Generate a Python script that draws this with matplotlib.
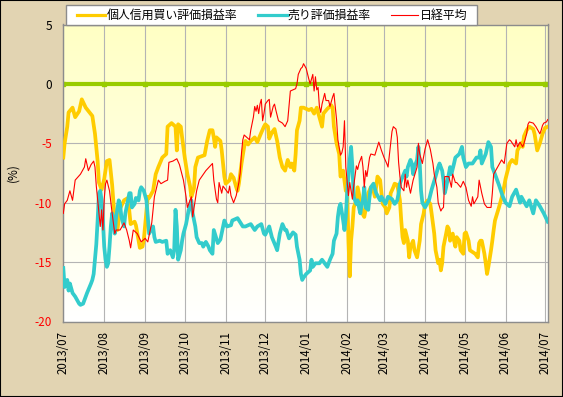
import matplotlib
matplotlib.use('Agg')
import matplotlib.pyplot as plt
import matplotlib.dates as mdates
from matplotlib.lines import Line2D
from matplotlib.patches import Rectangle
import numpy as np
import pandas as pd

plt.rcParams['font.family'] = ['Noto Sans CJK JP', 'DejaVu Sans']
plt.rcParams['axes.unicode_minus'] = False

# 個人信用買い評価損益率
buy_dates = [
    "2013-07-01", "2013-07-02", "2013-07-04", "2013-07-05", "2013-07-08", "2013-07-10", "2013-07-13", "2013-07-15",
    "2013-07-18", "2013-07-23", "2013-07-25", "2013-07-27", "2013-07-28", "2013-07-30", "2013-08-01", "2013-08-03",
    "2013-08-05", "2013-08-07", "2013-08-09", "2013-08-11", "2013-08-13", "2013-08-16", "2013-08-19", "2013-08-21",
    "2013-08-24", "2013-08-25", "2013-08-28", "2013-08-30", "2013-08-31", "2013-09-03", "2013-09-04", "2013-09-07",
    "2013-09-09", "2013-09-11", "2013-09-14", "2013-09-17", "2013-09-18", "2013-09-21", "2013-09-24", "2013-09-25",
    "2013-09-26", "2013-09-28", "2013-09-29", "2013-10-01", "2013-10-03", "2013-10-05", "2013-10-06", "2013-10-08",
    "2013-10-09", "2013-10-11", "2013-10-16", "2013-10-18", "2013-10-20", "2013-10-22", "2013-10-23", "2013-10-24",
    "2013-10-25", "2013-10-28", "2013-10-29", "2013-10-31", "2013-11-01", "2013-11-04", "2013-11-05", "2013-11-07",
    "2013-11-09", "2013-11-10", "2013-11-11", "2013-11-13", "2013-11-15", "2013-11-16", "2013-11-18", "2013-11-20",
    "2013-11-23", "2013-11-25", "2013-11-28", "2013-11-30", "2013-12-01", "2013-12-03", "2013-12-04", "2013-12-06",
    "2013-12-08", "2013-12-10", "2013-12-12", "2013-12-14", "2013-12-16", "2013-12-18", "2013-12-20", "2013-12-21",
    "2013-12-23", "2013-12-24", "2013-12-25", "2013-12-27", "2013-12-28", "2013-12-30", "2014-01-01", "2014-01-03",
    "2014-01-05", "2014-01-07", "2014-01-09", "2014-01-11", "2014-01-13", "2014-01-14", "2014-01-17", "2014-01-20",
    "2014-01-21", "2014-01-22", "2014-01-24", "2014-01-26", "2014-01-27", "2014-01-29", "2014-01-31", "2014-02-01",
    "2014-02-02", "2014-02-03", "2014-02-04", "2014-02-05", "2014-02-06", "2014-02-08", "2014-02-09", "2014-02-11",
    "2014-02-13", "2014-02-14", "2014-02-15", "2014-02-17", "2014-02-19", "2014-02-21", "2014-02-22", "2014-02-24",
    "2014-02-26", "2014-02-27", "2014-02-28", "2014-03-02", "2014-03-03", "2014-03-05", "2014-03-06", "2014-03-08",
    "2014-03-09", "2014-03-11", "2014-03-13", "2014-03-14", "2014-03-15", "2014-03-16", "2014-03-17", "2014-03-19",
    "2014-03-20", "2014-03-21", "2014-03-23", "2014-03-24", "2014-03-26", "2014-03-28", "2014-03-29", "2014-03-31",
    "2014-04-01", "2014-04-03", "2014-04-05", "2014-04-06", "2014-04-08", "2014-04-09", "2014-04-11", "2014-04-12",
    "2014-04-13", "2014-04-14", "2014-04-15", "2014-04-17", "2014-04-18", "2014-04-19", "2014-04-20", "2014-04-22",
    "2014-04-23", "2014-04-24", "2014-04-25", "2014-04-27", "2014-04-28", "2014-04-30", "2014-05-01", "2014-05-02",
    "2014-05-04", "2014-05-05", "2014-05-09", "2014-05-11", "2014-05-12", "2014-05-13", "2014-05-14", "2014-05-16",
    "2014-05-17", "2014-05-18", "2014-05-19", "2014-05-21", "2014-05-22", "2014-05-23", "2014-05-24", "2014-05-27",
    "2014-05-30", "2014-06-01", "2014-06-04", "2014-06-06", "2014-06-09", "2014-06-10", "2014-06-13", "2014-06-14",
    "2014-06-15", "2014-06-17", "2014-06-19", "2014-06-22", "2014-06-23", "2014-06-25", "2014-06-27", "2014-06-29",
    "2014-07-01", "2014-07-03",
]
buy_values = [
    -6.2, -5.0, -3.6, -2.4, -2.0, -2.8, -2.3, -1.3,
    -2.0, -2.7, -4.2, -6.5, -8.3, -8.9, -8.0, -6.5,
    -6.4, -8.5, -11.5, -12.3, -10.5, -9.8, -9.6, -11.8,
    -11.6, -11.9, -13.8, -13.7, -13.1, -9.5, -9.6, -9.0,
    -7.6, -7.0, -6.2, -5.9, -3.6, -3.3, -3.6, -5.6,
    -3.4, -3.6, -4.5, -6.2, -7.6, -8.6, -9.5, -8.8,
    -7.0, -6.2, -6.0, -4.8, -3.9, -3.9, -4.5, -5.3,
    -4.5, -4.8, -5.6, -7.8, -8.4, -8.1, -7.6, -7.9,
    -8.7, -9.0, -8.4, -6.7, -5.3, -4.8, -5.1, -4.8,
    -4.5, -4.9, -4.1, -3.6, -3.4, -3.6, -4.6, -4.1,
    -3.8, -4.8, -6.2, -7.0, -7.3, -6.4, -7.0, -6.7,
    -7.3, -5.9, -3.9, -3.1, -2.0, -2.0, -2.1, -2.2,
    -2.1, -2.5, -2.0, -2.8, -3.6, -2.5, -2.1, -1.8,
    -2.0, -3.6, -5.0, -5.9, -7.8, -7.3, -9.0, -8.7,
    -13.2, -16.2, -13.2, -12.0, -10.4, -9.8, -8.7, -9.8,
    -11.0, -11.2, -10.6, -9.2, -8.7, -9.0, -9.5, -7.8,
    -8.1, -9.2, -10.1, -10.4, -10.9, -10.4, -9.2, -8.7,
    -8.4, -8.5, -9.8, -11.5, -12.9, -13.4, -12.3, -13.2,
    -14.6, -13.7, -13.2, -14.0, -14.6, -13.2, -11.8, -10.9,
    -10.1, -9.8, -10.1, -10.9, -12.6, -14.0, -15.1, -14.8,
    -15.7, -15.1, -13.7, -12.6, -12.0, -12.2, -13.2, -12.6,
    -13.2, -13.7, -12.9, -13.2, -14.0, -14.3, -12.6, -12.5,
    -13.2, -14.0, -14.3, -14.6, -13.4, -13.2, -13.2, -14.3,
    -15.1, -16.0, -15.4, -14.0, -13.2, -12.3, -11.5, -10.4,
    -9.2, -8.0, -6.7, -6.4, -6.7, -5.6, -5.0, -5.3,
    -4.4, -3.9, -3.6, -3.8, -4.2, -5.6, -5.0, -4.2,
    -3.7, -3.6,
]

# 売り評価損益率
sell_dates = [
    "2013-07-01", "2013-07-02", "2013-07-04", "2013-07-05", "2013-07-06", "2013-07-08", "2013-07-10", "2013-07-13",
    "2013-07-14", "2013-07-16", "2013-07-17", "2013-07-19", "2013-07-22", "2013-07-23", "2013-07-24", "2013-07-25",
    "2013-07-26", "2013-07-27", "2013-07-28", "2013-07-29", "2013-07-30", "2013-07-31", "2013-08-01", "2013-08-02",
    "2013-08-03", "2013-08-04", "2013-08-05", "2013-08-06", "2013-08-07", "2013-08-08", "2013-08-09", "2013-08-10",
    "2013-08-12", "2013-08-13", "2013-08-14", "2013-08-16", "2013-08-17", "2013-08-19", "2013-08-20", "2013-08-21",
    "2013-08-22", "2013-08-24", "2013-08-25", "2013-08-27", "2013-08-28", "2013-08-29", "2013-08-31", "2013-09-02",
    "2013-09-03", "2013-09-04", "2013-09-07", "2013-09-08", "2013-09-09", "2013-09-12", "2013-09-14", "2013-09-17",
    "2013-09-18", "2013-09-20", "2013-09-22", "2013-09-23", "2013-09-24", "2013-09-25", "2013-09-26", "2013-09-28",
    "2013-09-29", "2013-09-30", "2013-10-02", "2013-10-04", "2013-10-06", "2013-10-07", "2013-10-09", "2013-10-10",
    "2013-10-12", "2013-10-14", "2013-10-15", "2013-10-17", "2013-10-19", "2013-10-20", "2013-10-22", "2013-10-23",
    "2013-10-26", "2013-10-28", "2013-10-31", "2013-11-02", "2013-11-05", "2013-11-06", "2013-11-10", "2013-11-14",
    "2013-11-16", "2013-11-20", "2013-11-23", "2013-11-25", "2013-11-28", "2013-11-30", "2013-12-01", "2013-12-04",
    "2013-12-06", "2013-12-09", "2013-12-10", "2013-12-12", "2013-12-14", "2013-12-16", "2013-12-17", "2013-12-19",
    "2013-12-22", "2013-12-24", "2013-12-25", "2013-12-27", "2013-12-28", "2013-12-29", "2013-12-30", "2014-01-01",
    "2014-01-04", "2014-01-05", "2014-01-06", "2014-01-08", "2014-01-11", "2014-01-13", "2014-01-15", "2014-01-17",
    "2014-01-19", "2014-01-21", "2014-01-22", "2014-01-24", "2014-01-25", "2014-01-26", "2014-01-27", "2014-01-29",
    "2014-01-30", "2014-01-31", "2014-02-01", "2014-02-02", "2014-02-03", "2014-02-04", "2014-02-05", "2014-02-06",
    "2014-02-08", "2014-02-09", "2014-02-10", "2014-02-11", "2014-02-12", "2014-02-13", "2014-02-14", "2014-02-15",
    "2014-02-17", "2014-02-18", "2014-02-19", "2014-02-21", "2014-02-23", "2014-02-26", "2014-02-27", "2014-03-02",
    "2014-03-04", "2014-03-07", "2014-03-09", "2014-03-11", "2014-03-12", "2014-03-13", "2014-03-14", "2014-03-17",
    "2014-03-18", "2014-03-19", "2014-03-21", "2014-03-22", "2014-03-23", "2014-03-24", "2014-03-26", "2014-03-27",
    "2014-03-28", "2014-03-29", "2014-03-30", "2014-04-01", "2014-04-04", "2014-04-06", "2014-04-09", "2014-04-11",
    "2014-04-12", "2014-04-14", "2014-04-15", "2014-04-16", "2014-04-17", "2014-04-19", "2014-04-20", "2014-04-21",
    "2014-04-23", "2014-04-24", "2014-04-27", "2014-04-29", "2014-04-30", "2014-05-02", "2014-05-04", "2014-05-07",
    "2014-05-10", "2014-05-12", "2014-05-13", "2014-05-14", "2014-05-17", "2014-05-19", "2014-05-21", "2014-05-22",
    "2014-05-24", "2014-05-27", "2014-05-30", "2014-06-01", "2014-06-04", "2014-06-06", "2014-06-09", "2014-06-12",
    "2014-06-13", "2014-06-17", "2014-06-19", "2014-06-22", "2014-06-24", "2014-06-27", "2014-06-30", "2014-07-03",
]
sell_values = [
    -15.5, -17.1, -16.5, -17.4, -16.8, -17.6, -17.9, -18.5,
    -18.6, -18.5, -18.2, -17.6, -16.8, -16.5, -16.0, -14.8,
    -13.5, -11.5, -9.2, -9.0, -9.8, -11.5, -13.7, -14.8,
    -15.4, -15.1, -13.7, -12.0, -10.9, -11.5, -12.6, -11.2,
    -9.8, -10.1, -11.2, -12.0, -10.9, -9.8, -9.2, -9.2,
    -10.4, -10.1, -9.6, -9.8, -9.0, -8.7, -9.0, -9.8,
    -11.2, -12.6, -12.0, -12.9, -13.3, -13.2, -13.3, -13.2,
    -14.3, -14.0, -14.6, -14.0, -10.6, -12.0, -14.8, -14.0,
    -13.2, -12.6, -11.8, -10.6, -9.8, -10.9, -12.0, -12.9,
    -13.4, -13.4, -13.7, -13.3, -13.7, -14.0, -14.3, -12.3,
    -13.4, -13.1, -11.5, -12.0, -11.9, -11.5, -11.3, -12.0,
    -12.0, -11.8, -12.3, -12.0, -11.8, -12.6, -12.7, -12.0,
    -12.9, -13.7, -14.0, -12.6, -11.8, -12.3, -12.3, -13.0,
    -12.5, -12.7, -13.7, -14.8, -16.0, -16.5, -16.3, -16.0,
    -15.7, -14.8, -15.4, -15.1, -15.1, -14.8, -15.1, -15.4,
    -14.8, -14.3, -13.2, -12.6, -11.2, -10.4, -10.1, -11.5,
    -12.3, -11.2, -9.2, -7.8, -6.4, -5.3, -7.0, -9.5,
    -10.1, -9.8, -10.4, -10.9, -10.1, -9.8, -8.7, -10.4,
    -10.6, -9.5, -8.7, -8.4, -9.2, -9.8, -9.5, -10.1,
    -9.5, -9.7, -10.1, -9.8, -9.2, -8.4, -8.1, -7.3,
    -7.8, -7.0, -6.4, -6.7, -7.6, -7.0, -6.4, -5.3,
    -6.7, -9.0, -10.0, -10.4, -9.8, -8.9, -7.8, -7.0,
    -6.7, -7.3, -8.1, -9.2, -8.7, -7.6, -7.0, -7.6,
    -6.7, -6.2, -5.9, -5.3, -6.2, -7.0, -6.7, -6.7,
    -6.2, -6.2, -5.6, -6.7, -5.9, -4.9, -5.3, -7.0,
    -7.6, -8.5, -9.5, -10.0, -10.3, -9.5, -8.9, -10.0,
    -9.5, -10.3, -9.8, -10.9, -9.8, -10.3, -10.9, -11.6,
]

# 日経平均
nikkei_dates = [
    "2013-07-01", "2013-07-02", "2013-07-04", "2013-07-06", "2013-07-08", "2013-07-10", "2013-07-14", "2013-07-17",
    "2013-07-18", "2013-07-20", "2013-07-22", "2013-07-24", "2013-07-25", "2013-07-26", "2013-07-28", "2013-07-29",
    "2013-07-30", "2013-07-31", "2013-08-01", "2013-08-02", "2013-08-03", "2013-08-05", "2013-08-07", "2013-08-09",
    "2013-08-10", "2013-08-13", "2013-08-16", "2013-08-18", "2013-08-20", "2013-08-21", "2013-08-23", "2013-08-26",
    "2013-08-29", "2013-09-01", "2013-09-03", "2013-09-06", "2013-09-08", "2013-09-11", "2013-09-13", "2013-09-16",
    "2013-09-18", "2013-09-19", "2013-09-22", "2013-09-25", "2013-09-27", "2013-09-30", "2013-10-02", "2013-10-03",
    "2013-10-06", "2013-10-07", "2013-10-10", "2013-10-12", "2013-10-17", "2013-10-22", "2013-10-23", "2013-10-25",
    "2013-10-26", "2013-10-27", "2013-10-29", "2013-10-30", "2013-11-01", "2013-11-03", "2013-11-04", "2013-11-05",
    "2013-11-07", "2013-11-09", "2013-11-11", "2013-11-12", "2013-11-13", "2013-11-14", "2013-11-15", "2013-11-18",
    "2013-11-19", "2013-11-20", "2013-11-22", "2013-11-23", "2013-11-24", "2013-11-25", "2013-11-26", "2013-11-27",
    "2013-11-28", "2013-11-29", "2013-11-30", "2013-12-01", "2013-12-03", "2013-12-04", "2013-12-05", "2013-12-07",
    "2013-12-08", "2013-12-09", "2013-12-11", "2013-12-14", "2013-12-16", "2013-12-18", "2013-12-19", "2013-12-20",
    "2013-12-24", "2013-12-25", "2013-12-26", "2013-12-28", "2013-12-29", "2013-12-30", "2014-01-01", "2014-01-03",
    "2014-01-04", "2014-01-05", "2014-01-06", "2014-01-07", "2014-01-08", "2014-01-09", "2014-01-10", "2014-01-11",
    "2014-01-12", "2014-01-13", "2014-01-15", "2014-01-16", "2014-01-18", "2014-01-19", "2014-01-21", "2014-01-22",
    "2014-01-24", "2014-01-25", "2014-01-27", "2014-01-28", "2014-01-29", "2014-01-30", "2014-01-31", "2014-02-02",
    "2014-02-03", "2014-02-05", "2014-02-06", "2014-02-08", "2014-02-09", "2014-02-10", "2014-02-12", "2014-02-13",
    "2014-02-14", "2014-02-15", "2014-02-16", "2014-02-18", "2014-02-19", "2014-02-22", "2014-02-25", "2014-02-27",
    "2014-03-01", "2014-03-03", "2014-03-04", "2014-03-06", "2014-03-07", "2014-03-08", "2014-03-10", "2014-03-11",
    "2014-03-12", "2014-03-13", "2014-03-14", "2014-03-16", "2014-03-17", "2014-03-18", "2014-03-19", "2014-03-21",
    "2014-03-23", "2014-03-26", "2014-03-27", "2014-03-28", "2014-03-30", "2014-04-01", "2014-04-03", "2014-04-05",
    "2014-04-07", "2014-04-08", "2014-04-10", "2014-04-11", "2014-04-13", "2014-04-14", "2014-04-15", "2014-04-16",
    "2014-04-19", "2014-04-21", "2014-04-22", "2014-04-24", "2014-04-25", "2014-04-28", "2014-04-30", "2014-05-02",
    "2014-05-04", "2014-05-06", "2014-05-07", "2014-05-08", "2014-05-11", "2014-05-12", "2014-05-14", "2014-05-16",
    "2014-05-18", "2014-05-21", "2014-05-22", "2014-05-23", "2014-05-26", "2014-05-29", "2014-05-31", "2014-06-02",
    "2014-06-04", "2014-06-05", "2014-06-08", "2014-06-09", "2014-06-10", "2014-06-12", "2014-06-14", "2014-06-15",
    "2014-06-17", "2014-06-18", "2014-06-19", "2014-06-22", "2014-06-24", "2014-06-27", "2014-06-28", "2014-06-29",
    "2014-06-30", "2014-07-02", "2014-07-03",
]
nikkei_values = [
    -10.9, -10.1, -9.8, -9.0, -9.8, -8.1, -7.6, -7.0,
    -6.3, -7.3, -6.8, -6.5, -7.0, -8.6, -10.9, -12.0,
    -10.6, -12.3, -9.7, -8.4, -8.1, -9.0, -10.9, -12.6,
    -12.3, -12.3, -11.7, -12.3, -13.2, -13.8, -12.3, -12.6,
    -13.3, -13.0, -13.3, -11.7, -9.5, -8.1, -8.4, -8.2,
    -8.1, -6.6, -6.5, -6.3, -6.8, -8.1, -9.5, -10.4,
    -9.5, -11.2, -9.0, -8.1, -7.3, -6.7, -8.1, -9.7,
    -10.0, -8.3, -9.2, -8.6, -8.9, -9.2, -8.6, -9.4,
    -10.0, -9.4, -8.3, -7.5, -5.8, -4.7, -4.3, -4.6,
    -4.7, -3.9, -2.8, -1.9, -2.3, -1.8, -2.5, -1.7,
    -1.3, -3.1, -2.5, -1.7, -1.4, -1.3, -2.8, -1.9,
    -1.7, -2.2, -3.1, -3.3, -3.6, -3.1, -1.9, -0.6,
    -0.4, 0.0, 0.8, 1.3, 1.4, 1.7, 1.3, 0.4,
    0.0, 0.4, 0.8, -0.6, 0.6, -0.5, -0.3, -1.9,
    -2.4, -1.7, -0.8, -1.4, -1.4, -1.9, -1.1, -0.8,
    -3.0, -4.7, -6.0, -5.8, -5.3, -3.1, -7.0, -9.4,
    -8.3, -9.7, -8.6, -6.9, -7.2, -6.7, -6.1, -7.0,
    -8.7, -7.3, -7.8, -6.2, -5.9, -6.0, -4.9, -5.6,
    -6.2, -6.7, -7.0, -5.0, -4.0, -3.6, -3.8, -4.5,
    -6.6, -7.8, -8.7, -9.0, -7.6, -8.7, -8.1, -9.2,
    -8.1, -7.0, -5.0, -5.9, -6.7, -5.5, -4.7, -5.5,
    -6.7, -7.6, -8.7, -10.0, -10.7, -10.5, -10.4, -7.8,
    -7.8, -8.7, -7.6, -8.3, -8.3, -8.7, -8.2, -8.7,
    -9.8, -10.3, -9.5, -10.1, -9.5, -8.1, -9.2, -10.1,
    -10.4, -10.4, -9.2, -7.6, -7.0, -6.4, -6.7, -5.0,
    -4.7, -4.8, -5.3, -4.7, -5.3, -4.9, -5.3, -5.0,
    -4.2, -3.4, -3.2, -3.3, -3.6, -4.2, -3.9, -3.5,
    -3.3, -3.2, -3.0,
]

series_labels = ["個人信用買い評価損益率", "売り評価損益率", "日経平均"]
y_ticks = [5, 0, -5, -10, -15, -20]

buy_color = '#FFCC00'
sell_color = '#33CCCC'
nikkei_color = '#FF0000'
zero_color = '#99CC00'

W, H = 563, 397
fig = plt.figure(figsize=(W / 100, H / 100), dpi=100)
fig.patch.set_facecolor('#E2D4B2')


def fx(px):
    return px / W


def fy(py):
    return 1 - py / H


# プロット領域 (ピクセル)
left, right, top, bottom = 63.3, 548.3, 24.5, 321.5
rect = [fx(left), fy(bottom), (right - left) / W, (bottom - top) / H]

# 背景グラデーション (上: 薄い黄色 → 下: 白)
bg = fig.add_axes(rect, zorder=0)
t = np.linspace(0, 1, 256).reshape(-1, 1, 1)
top_rgb = np.array([255, 255, 196]) / 255
bot_rgb = np.array([255, 255, 255]) / 255
grad = top_rgb * (1 - t) + bot_rgb * t
bg.imshow(grad, aspect='auto', extent=[0, 1, 0, 1])
bg.axis('off')

ax = fig.add_axes(rect, zorder=1)
ax.set_facecolor('none')

start = pd.Timestamp("2013-07-01")
ax.set_xlim(start, start + pd.Timedelta(days=367.4))
ax.set_ylim(-20, 5)

month_ticks = pd.date_range("2013-07-01", "2014-07-01", freq="MS")
ax.set_xticks(month_ticks)
ax.xaxis.set_major_formatter(mdates.DateFormatter('%Y/%m'))
ax.set_yticks(y_ticks)
ax.set_yticklabels([str(v) for v in y_ticks])
for lab, v in zip(ax.get_yticklabels(), y_ticks):
    lab.set_color('red' if v < 0 else 'black')

ax.tick_params(axis='x', length=0, pad=7, labelrotation=90, labelsize=8.3)
ax.tick_params(axis='y', length=0, pad=8, labelsize=8.5)
ax.grid(True, color='#B4B4B4', lw=0.8)
ax.set_axisbelow(True)
for s in ax.spines.values():
    s.set_color('#8C8C8C')
    s.set_linewidth(1)

ax.set_ylabel('(%)', fontsize=8.5)
ax.yaxis.set_label_coords(-0.09, 0.5)

# ゼロライン
ax.axhline(0, color=zero_color, lw=3, zorder=2)
ax.plot(month_ticks, np.zeros(len(month_ticks)), 's', color=zero_color, ms=3.5, zorder=2)

ax.plot(pd.to_datetime(buy_dates), buy_values, color=buy_color, lw=2.7, zorder=3)
ax.plot(pd.to_datetime(sell_dates), sell_values, color=sell_color, lw=2.7, zorder=3)
ax.plot(pd.to_datetime(nikkei_dates), nikkei_values, color=nikkei_color, lw=0.8, zorder=4)

# 凡例 (手描き)
fig.add_artist(Rectangle((fx(65.7), fy(25)), (476.5 - 65.7) / W, 20 / H,
                         transform=fig.transFigure, facecolor='white',
                         edgecolor='#8C8C8C', lw=1, zorder=5))
legend_items = [
    (76.7, 105.0, 106.7, buy_color, 2.3),
    (258.0, 286.7, 288.0, sell_color, 2.3),
    (391.0, 417.7, 420.0, nikkei_color, 0.8),
]
for (x0, x1, xt, c, lw), label in zip(legend_items, series_labels):
    fig.add_artist(Line2D([fx(x0), fx(x1)], [fy(15), fy(15)], color=c, lw=lw,
                          transform=fig.transFigure, zorder=6))
    fig.text(fx(xt), fy(15.5), label, fontsize=8.6, va='center', ha='left', zorder=6)

# 外枠
fig.add_artist(Rectangle((0, 0), 1, 1, transform=fig.transFigure, fill=False,
                         edgecolor='black', lw=1.5, zorder=10))

fig.savefig('out.png', dpi=100, facecolor=fig.get_facecolor())
